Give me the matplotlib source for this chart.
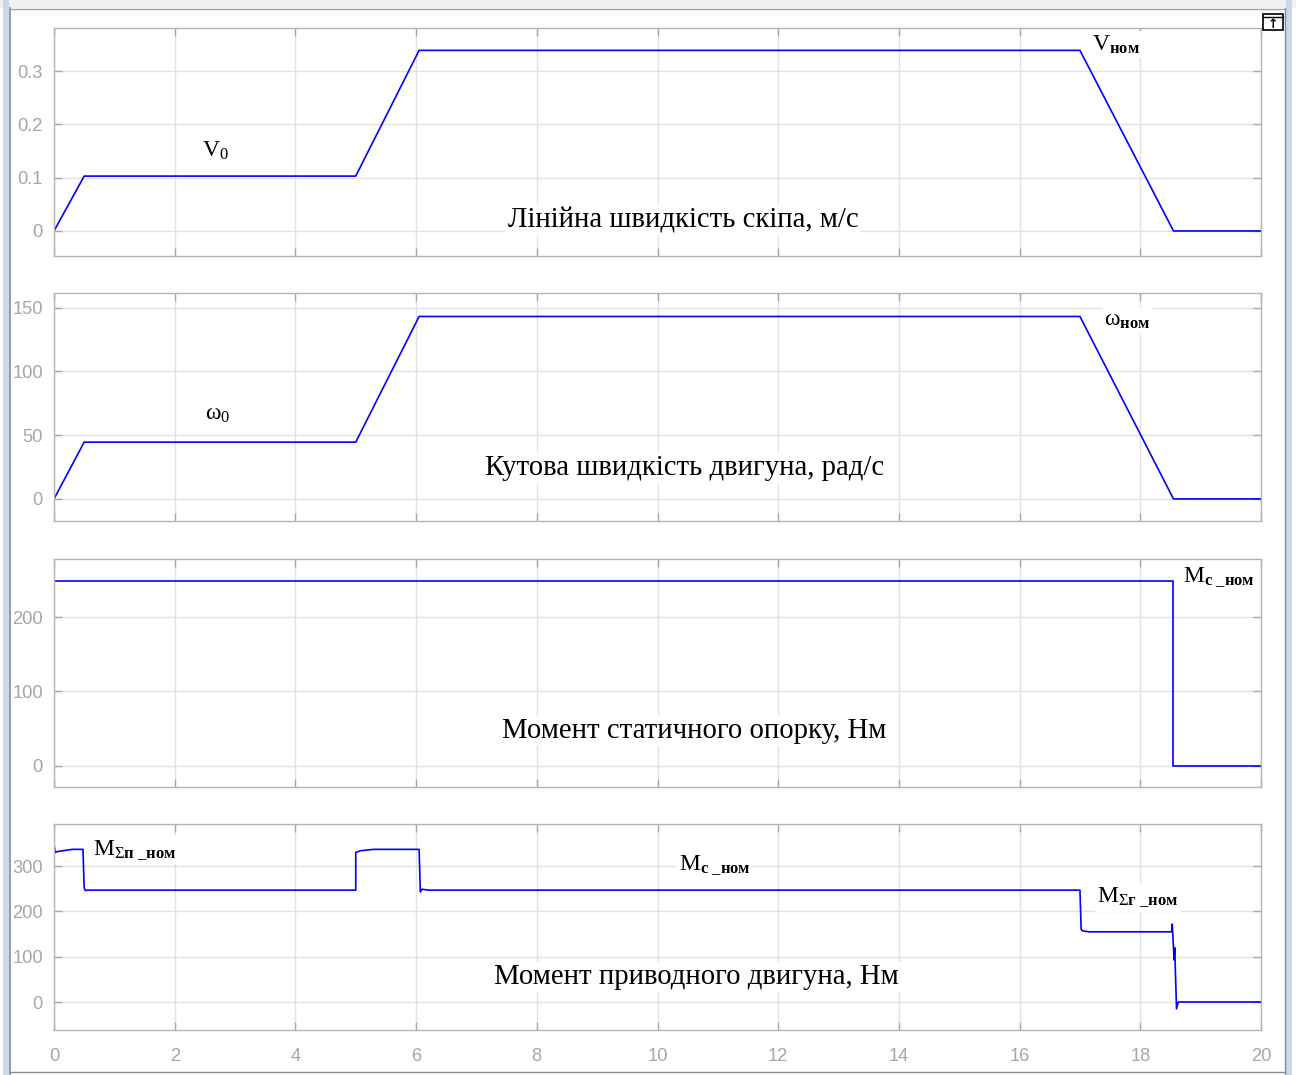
import numpy as np
import matplotlib
matplotlib.use('Agg')
import matplotlib.pyplot as plt
from matplotlib.patches import Rectangle
from matplotlib.lines import Line2D

# Breakpoints of the simulated signals (time in s)
v_t = [0, 0.5, 5.0, 6.05, 17.0, 18.55, 20]
v_val = [0, 0.103, 0.103, 0.339, 0.339, 0, 0]

w_t = [0, 0.5, 5.0, 6.05, 17.0, 18.55, 20]
w_val = [0, 44.5, 44.5, 143, 143, 0, 0]

mc_t = [0, 18.55, 18.55, 20]
mc_val = [248, 248, 0, 0]

m_t = [0, 0.0, 0.02, 0.05, 0.3, 0.48, 0.5, 0.52, 0.56, 5.0, 5.0, 5.08, 5.3, 6.05,
       6.07, 6.1, 6.2, 17.0, 17.02, 17.05, 17.15, 18.52, 18.53, 18.56, 18.57,
       18.6, 18.63, 18.7, 20]
m_val = [0, 348, 330, 332, 337, 337, 252, 246, 247, 247, 330, 334, 337, 337,
         243, 249, 247, 247, 160, 157, 155, 155, 172, 93, 120, -15, 0, 0, 0]

time_ticks = [0, 2, 4, 6, 8, 10, 12, 14, 16, 18, 20]

plt.rcParams['font.family'] = ['Liberation Sans', 'DejaVu Sans']
plt.rcParams['mathtext.fontset'] = 'custom'
plt.rcParams['mathtext.rm'] = 'Liberation Serif'
plt.rcParams['mathtext.it'] = 'Liberation Serif'
plt.rcParams['mathtext.bf'] = 'Liberation Serif:bold'

fig = plt.figure(figsize=(12.96, 10.75), dpi=100)
W, H = 1296, 1075

# window frame around the scope
fig.add_artist(Rectangle((0, 1 - 8 / H), 1, 8 / H, transform=fig.transFigure,
                         color='#f0f0f0', lw=0))
fig.add_artist(Rectangle((3 / W, 0), 6 / W, 1, transform=fig.transFigure,
                         color='#c9d8ec', lw=0))
fig.add_artist(Rectangle((1286 / W, 0), 6 / W, 1, transform=fig.transFigure,
                         color='#c9d8ec', lw=0))
fig.add_artist(Line2D([9.5 / W, 9.5 / W], [0, 1 - 8 / H], transform=fig.transFigure,
                      color='#8a8a8a', lw=1.2))
fig.add_artist(Line2D([1285 / W, 1285 / W], [0, 1 - 8 / H], transform=fig.transFigure,
                      color='#8a8a8a', lw=1.0))
fig.add_artist(Line2D([9.5 / W, 1285 / W], [1 - 8.5 / H, 1 - 8.5 / H],
                      transform=fig.transFigure, color='#a0a0a0', lw=1.0))
fig.add_artist(Line2D([9.5 / W, 1285 / W], [3 / H, 3 / H],
                      transform=fig.transFigure, color='#8a8a8a', lw=1.0))

# small undock button in the corner
fig.add_artist(Rectangle((1263 / W, 1 - 30 / H), 20 / W, 16 / H, transform=fig.transFigure,
                         fill=False, ec='black', lw=1.2))
fig.add_artist(Line2D([1263 / W, 1283 / W], [1 - 17 / H, 1 - 17 / H],
                      transform=fig.transFigure, color='black', lw=1.0))
fig.text(1273 / W, 1 - 24 / H, '↑', ha='center', va='center', fontsize=9,
         fontweight='bold', family='DejaVu Sans')

# axes boxes in pixels: (top, bottom, ylim, yticks, yticklabels)
panels = [
    (28, 256, (-0.047, 0.381), [0, 0.1, 0.2, 0.3], ['0', '0.1', '0.2', '0.3']),
    (293, 521, (-17.3, 161.4), [0, 50, 100, 150], ['0', '50', '100', '150']),
    (559, 787, (-28.4, 278), [0, 100, 200], ['0', '100', '200']),
    (824, 1030, (-61.8, 393), [0, 100, 200, 300], ['0', '100', '200', '300']),
]
series = [(v_t, v_val), (w_t, w_val), (mc_t, mc_val), (m_t, m_val)]

left, right = 54, 1261
axes = []
for (top, bot, ylim, yt, ytl), (xs, ys) in zip(panels, series):
    ax = fig.add_axes([left / W, 1 - bot / H, (right - left) / W, (bot - top) / H])
    ax.plot(xs, ys, color='#0000ff', lw=1.2)
    ax.set_xlim(0, 20)
    ax.set_ylim(*ylim)
    ax.set_yticks(yt)
    ax.set_yticklabels(ytl)
    ax.set_xticks(time_ticks)
    ax.grid(True, color='#e2e2e2', lw=1.0)
    ax.set_axisbelow(True)
    ax.tick_params(direction='in', length=6, width=1.0, color='#a8a8a8',
                   labelcolor='#a6a6a6', labelsize=13.2, top=True, right=True, pad=8)
    ax.tick_params(axis='x', pad=13)
    for s in ax.spines.values():
        s.set_color('#b5b5b5')
        s.set_linewidth(1.0)
    axes.append(ax)

for ax in axes[:-1]:
    ax.set_xticklabels([])

serif = ['Liberation Serif', 'DejaVu Serif']
box = dict(facecolor='white', edgecolor='none', pad=1.5)


def title(ax, x, y, s):
    ax.text(x, y, s, ha='center', va='center', fontsize=20.7, family=serif, bbox=box)


def label(ax, x, y, s, size=17):
    ax.text(x, y, s, ha='left', va='center', fontsize=size, family=serif, bbox=box)


title(axes[0], 10.42, 0.02, 'Лінійна швидкість скіпа, м/с')
label(axes[0], 2.45, 0.15, r'$\mathrm{V_0}$')
label(axes[0], 17.2, 0.35, r'$\mathrm{V_{\mathbf{ном}}}$')

title(axes[1], 10.45, 24, 'Кутова швидкість двигуна, рад/с')
label(axes[1], 2.5, 66, r'$\mathrm{\omega_0}$')
label(axes[1], 17.4, 140, r'$\mathrm{\omega_{\mathbf{ном}}}$')

title(axes[2], 10.6, 47, 'Момент статичного опорку, Нм')
label(axes[2], 18.7, 253, r'$\mathrm{M_{\mathbf{c\ \_ном}}}$')

title(axes[3], 10.65, 55, 'Момент приводного двигуна, Нм')
label(axes[3], 0.64, 335, r'$\mathrm{M_{\Sigma\mathbf{п\ \_ном}}}$')
label(axes[3], 10.35, 302, r'$\mathrm{M_{\mathbf{c\ \_ном}}}$')
label(axes[3], 17.28, 230, r'$\mathrm{M_{\Sigma\mathbf{г\ \_ном}}}$')

fig.savefig('out.png', dpi=100)
